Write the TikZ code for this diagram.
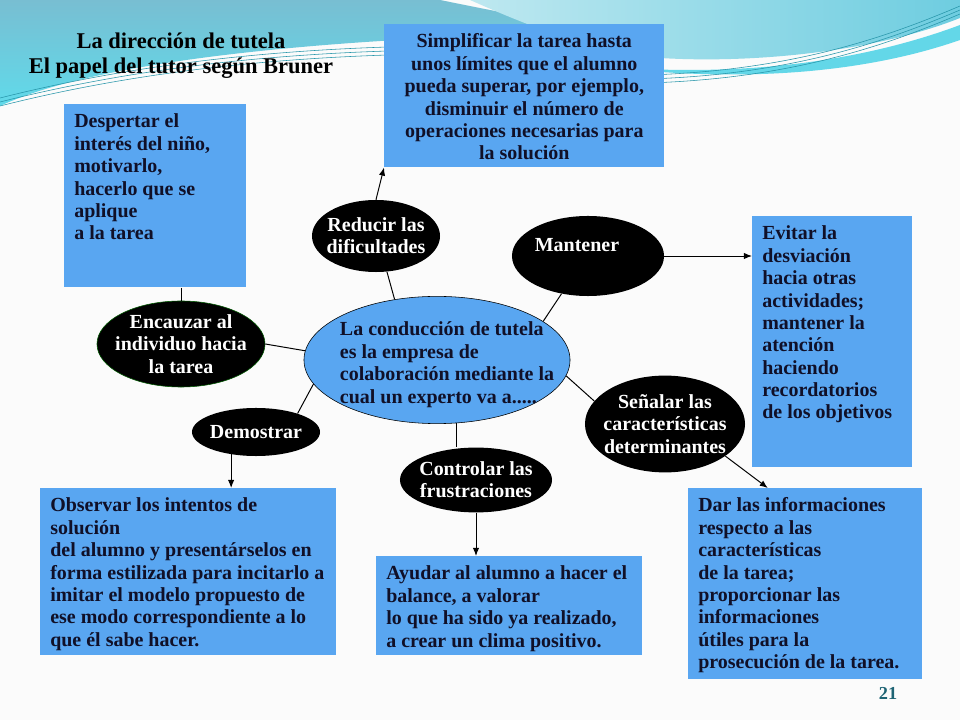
\documentclass[tikz,border=0pt]{standalone}
\usepackage{fontspec}
\setmainfont{Liberation Serif}
\usetikzlibrary{shapes.geometric}
\usetikzlibrary{calc}
\usetikzlibrary{arrows.meta}

\definecolor{boxblue}{RGB}{89,166,241}
\definecolor{inkblue}{RGB}{16,16,40}
\definecolor{wavedark}{RGB}{120,190,210}
\definecolor{wavebright}{RGB}{96,218,234}
\definecolor{wavelight}{RGB}{190,232,240}
\definecolor{wavemid}{RGB}{110,205,224}
\definecolor{waveline}{RGB}{40,150,170}
\definecolor{pagenum}{RGB}{30,100,116}

\newlength\pxu
\setlength\pxu{0.025cm}
% box text: [align]{width}{height}{lines}, sizes in px
\newcommand{\boxtext}[4][l]{%
  \parbox[c][\dimexpr#3\pxu-0.4cm\relax][t]{\dimexpr#2\pxu-0.5cm\relax}{%
    \makebox[\linewidth][#1]{\begin{tabular}[t]{@{}#1@{}}#4\end{tabular}}}}

\begin{document}
\begin{tikzpicture}[x=0.025cm, y=-0.025cm,
  font=\fontsize{14.2}{15.9}\selectfont\bfseries,
  infobox/.style={fill=boxblue, text=inkblue, anchor=north west,
    inner xsep=0.25cm, inner ysep=0.2cm},
  bubble/.style={ellipse, fill=black, text=white, align=center, inner sep=-2cm},
  link/.style={line width=0.7pt},
  arrow/.style={link, -{Latex[length=5.7pt, width=4.5pt]}}]

  % Slide background
  \useasboundingbox (0,0) rectangle (960,720);
  \fill[gray!3] (0,0) rectangle (960,720);
  \shade[top color=wavedark, bottom color=wavebright]
    (0,0) -- (440,0) .. controls (500,12) and (560,25) .. (640,32)
    .. controls (420,34) and (120,50) .. (0,106) -- cycle;
  \shade[left color=wavelight, right color=wavemid]
    (470,0) -- (960,0) -- (960,18) .. controls (880,50) and (760,64) .. (660,58)
    .. controls (590,52) and (520,22) .. (470,0) -- cycle;
  \fill[wavebright!80!wavemid] (600,66) .. controls (760,80) and (880,55) .. (960,25)
    -- (960,40) .. controls (880,68) and (760,86) .. (600,66) -- cycle;
  \foreach \d in {0,4,8} {
    \draw[waveline, line width=0.4pt] (0,{98+\d}) .. controls (150,{60+\d}) and (300,{48+\d}) .. (430,{46+\d});
    \draw[waveline, line width=0.4pt] (560,{74+\d}) .. controls (760,{84+\d}) and (880,{40+\d}) .. (960,{6+\d});
  }

  % Title
  \node[align=center, font=\fontsize{16}{17.8}\selectfont\bfseries] (titulo) at (181,56)
    {La dirección de tutela\\El papel del tutor según Bruner};

  % Boxes
  \node[infobox] (simplif) at (384,24) {\boxtext[c]{280}{143}{Simplificar la tarea hasta\\
    unos límites que el alumno\\ pueda superar, por ejemplo,\\ disminuir el número de\\
    operaciones necesarias para\\ la solución}};
  \node[infobox] (despertar) at (64,104) {\boxtext{182}{183}{Despertar el\\ interés del niño,\\
    motivarlo,\\ hacerlo que se\\ aplique\\ a la tarea}};
  \node[infobox] (evitar) at (752,216) {\boxtext{160}{251}{Evitar la\\ desviación\\
    hacia otras\\ actividades;\\ mantener la\\ atención\\ haciendo\\ recordatorios\\
    de los objetivos}};
  \node[infobox] (observar) at (40,488) {\boxtext{296}{167}{Observar los intentos de\\
    solución\\ del alumno y presentárselos en\\ forma estilizada para incitarlo a\\
    imitar el modelo propuesto de\\ ese modo correspondiente a lo\\ que él sabe hacer.}};
  \node[infobox] (ayudar) at (376,556) {\boxtext{266}{99}{Ayudar al alumno a hacer el\\
    balance, a valorar\\ lo que ha sido ya realizado,\\ a crear un clima positivo.}};
  \node[infobox] (dar) at (688,488) {\boxtext{234}{191}{Dar las informaciones\\
    respecto a las\\ características\\ de la tarea;\\ proporcionar las\\ informaciones\\
    útiles para la\\ prosecución de la tarea.}};

  % Ellipses
  \node[bubble, fill=boxblue, draw=black, text=inkblue, minimum width=6.65cm,
    minimum height=3.18cm] (conduccion) at (437,360)
    {\raisebox{-5\pxu}[\height][\depth]{\begin{tabular}{@{\hspace{0.5cm}}l@{}}La conducción de tutela\\
    es la empresa de\\ colaboración mediante la\\ cual un experto va a.....\end{tabular}}};
  \node[bubble, minimum width=3.2cm, minimum height=1.8cm] (reducir) at (376,236)
    {Reducir las\\ dificultades};
  \node[bubble, minimum width=3.8cm, minimum height=2cm] (mantener) at (588,256)
    {Mantener\hspace*{0.55cm}\\ \mbox{}};
  \node[bubble, draw=green!35!black, minimum width=4.2cm, minimum height=2.15cm]
    (encauzar) at (181,344) {Encauzar al\\ individuo hacia\\ la tarea};
  \node[bubble, minimum width=3.2cm, minimum height=1.2cm] (demostrar) at (256,432)
    {Demostrar};
  \node[bubble, minimum width=4cm, minimum height=2.42cm] (senalar) at (665,424)
    {Señalar las\\ características\\ determinantes};
  \node[bubble, minimum width=3.8cm, minimum height=1.62cm] (controlar) at (476,480)
    {Controlar las\\ frustraciones};

  % Connectors
  \draw[link] (conduccion.125) -- (reducir.-73);
  \draw[arrow] (reducir.north) -- (simplif.south west);
  \draw[link] (conduccion.20) -- (mantener.235);
  \draw[arrow] (mantener.east) -- (mantener.east -| evitar.west);
  \draw[link] (conduccion.176) -- (encauzar.east);
  \draw[link] (encauzar.north |- despertar.south) -- (encauzar.north);
  \draw[link] (conduccion.191) -- (demostrar.24);
  \draw[arrow] (demostrar.222) -- (demostrar.222 |- observar.north);
  \draw[link] (conduccion.-73) -- (conduccion.-73 |- controlar.north);
  \draw[arrow] (controlar.south) -- (controlar.south |- ayudar.north);
  \draw[link] (conduccion.-7) -- (senalar.162);
  \draw[arrow] (senalar.-28) -- ($(dar.north west)!0.34!(dar.north east)$);

  % Slide number
  \node[text=pagenum, font=\fontsize{13}{15}\selectfont\bfseries] (pagina) at (888,693) {21};
\end{tikzpicture}
\end{document}
